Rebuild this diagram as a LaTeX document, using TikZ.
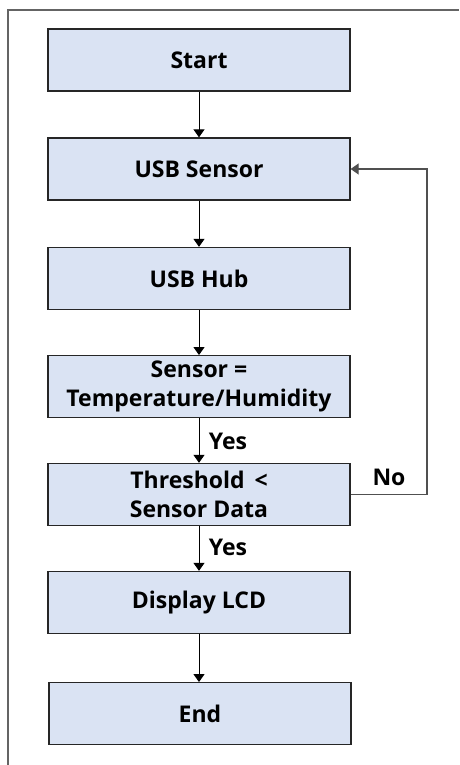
\documentclass[tikz,border=0pt]{standalone}
\usepackage{fontspec}
\setmainfont{Open Sans}
\usetikzlibrary{arrows.meta}
\definecolor{boxfill}{RGB}{218,227,243}
\definecolor{framegray}{RGB}{100,100,100}
\definecolor{loopgray}{RGB}{80,80,80}
\tikzset{
  stepbox/.style={draw=black!85, line width=1.3pt, fill=boxfill, rectangle,
    minimum width=302pt, minimum height=62pt, inner sep=0pt, align=center,
    font=\fontsize{23}{29}\selectfont\bfseries},
  flow/.style={draw=black, line width=1pt, -{Triangle[width=11pt,length=8pt]}},
  loopline/.style={draw=loopgray, line width=1.3pt, -{Triangle[width=11pt,length=8pt]}},
  lbl/.style={font=\fontsize{23}{27}\selectfont\bfseries, inner sep=0pt}
}
\begin{document}
\begin{tikzpicture}[x=1pt,y=-1pt]
\useasboundingbox (0,0) rectangle (459,765);
\draw[framegray, line width=1.4pt] (8,765) -- (8,10) -- (459,10);
\node[stepbox] (start) at (199,60) {Start};
\node[stepbox] (usb) at (199,169) {USB Sensor};
\node[stepbox] (hub) at (199,278.5) {USB Hub};
\node[stepbox] (sens) at (199,386.7) {Sensor =\\Temperature/Humidity};
\node[stepbox] (thr) at (199,494.5) {Threshold \,<\\Sensor Data};
\node[stepbox] (lcd) at (199,602.5) {Display LCD};
\node[stepbox] (fin) at (200,713.7) {End};
\draw[flow] (start) -- (usb);
\draw[flow] (usb) -- (hub);
\draw[flow] (hub) -- (sens);
\draw[flow] (sens) -- (thr);
\draw[flow] (thr) -- (lcd);
\draw[flow] (lcd) -- (fin.north -| lcd.south);
\coordinate (corner) at (427,494.5);
\draw[loopline] (thr.east) -- (corner) |- (usb.east);
\node[lbl] (yes1) at (228,441) {Yes};
\node[lbl] (yes2) at (228,547) {Yes};
\node[lbl] (no) at (389,477) {No};
\end{tikzpicture}
\end{document}
